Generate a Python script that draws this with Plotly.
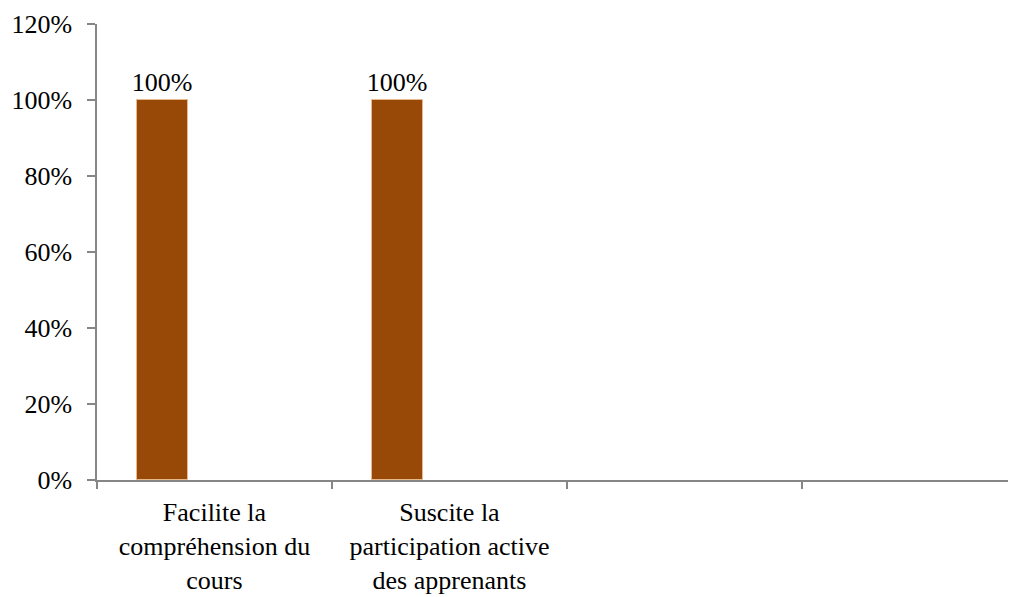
import plotly.graph_objects as go

categories = ["Facilite la<br>compréhension du<br>cours",
              "Suscite la<br>participation active<br>des apprenants",
              " ", "  "]
values = [1.0, 1.0, None, None]
labels = ["100%", "100%", "", ""]
y_ticks = [0, 0.2, 0.4, 0.6, 0.8, 1.0, 1.2]

FONT = "Liberation Serif"
AXIS = "#868686"

fig = go.Figure()
fig.add_trace(go.Bar(
    x=categories, y=values,
    width=0.217, offset=-0.33,
    marker=dict(color="#984807", line=dict(color="#e8b98a", width=1)),
    text=labels, textposition="outside", cliponaxis=False,
    constraintext="none",
    textfont=dict(family=FONT, size=26, color="black"),
    hoverinfo="skip",
))

fig.update_layout(
    width=1008, height=589,
    margin=dict(l=89, r=0, t=16, b=117, autoexpand=False),
    paper_bgcolor="white", plot_bgcolor="white",
    showlegend=False,
    font=dict(family=FONT, size=26, color="black"),
    bargap=0,
)
fig.update_xaxes(
    type="category", range=[-0.5, 3.411], automargin=False,
    tickson="boundaries", ticks="outside", ticklen=7, tickwidth=1.5, tickcolor=AXIS,
    showline=True, linecolor=AXIS, linewidth=1.5,
    showgrid=False, zeroline=False, ticklabelstandoff=8,
    tickfont=dict(family=FONT, size=26, color="black"),
)
fig.update_yaxes(
    range=[0, 1.2], tickvals=y_ticks, tickformat=".0%", automargin=False,
    ticks="outside", ticklen=8, tickwidth=1.5, tickcolor=AXIS,
    showline=True, linecolor=AXIS, linewidth=1.5,
    showgrid=False, zeroline=False, ticklabelstandoff=10,
    tickfont=dict(family=FONT, size=26, color="black"),
)

fig.write_html("out.html")
